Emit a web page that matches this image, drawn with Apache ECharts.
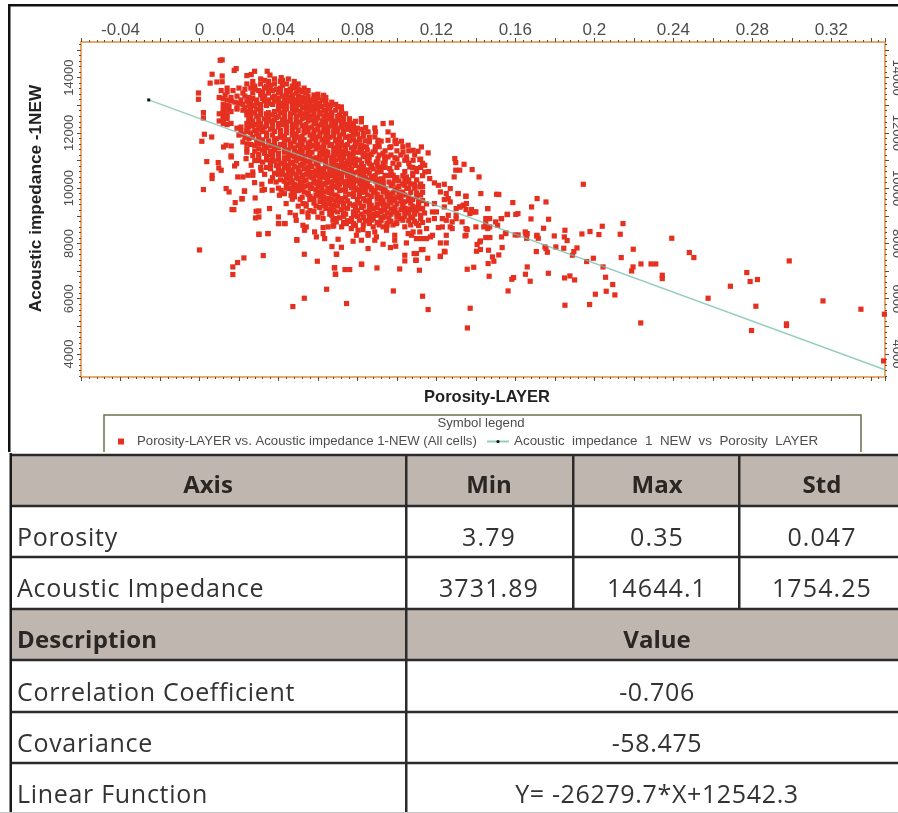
<!DOCTYPE html>
<html><head><meta charset="utf-8">
<style>html,body{margin:0;padding:0;background:#fff;overflow:hidden}#c{position:absolute;left:0;top:0;width:898px;height:813px}
.t{position:absolute;font:25px "Open Sans",sans-serif;color:#333;line-height:30px;height:30px;white-space:pre;transform:translateY(-15px)}
.c{transform:translate(-50%,-15px)}.b{font-size:24px;font-weight:bold;color:#2a2624}</style>
<script src="https://cdn.jsdelivr.net/npm/echarts@6/dist/echarts.min.js"></script>
</head><body><div id="c"></div><div id="tbl"></div>
<script>
// Points: [porosity, impedance]
const sparsePoints = [
[0,7764],[.0225,7475],[.0193,7309],[.0169,7150],[.0169,6875],[.0323,7560],[.0301,8332],[.0348,8358],[.0473,5717],[.0531,6017],[.0644,6343],[.0745,5826],[.0531,7609],[.0597,7356],[.0683,7113],[.069,6885],[.0737,7055],[.0761,7055],[.0822,7247],[.0899,7113],[.1014,7077],[.1114,7030],[.0982,6281],[.113,6090],[.1158,5609],[.0493,8115],[.0695,7609],[.0671,7888],[.0719,7862],[.104,7573],[.104,7367],[.1087,7634],[.1132,7780],[.1098,7392],[.1156,7464],[.122,7526],[.1244,7692],
[.2987,7367],[.3158,5920],[.335,5620],[.3469,5440],[.3465,3750],[.2973,5030],[.2973,5090],[.2796,4849],[.2818,5728],[.2826,6694],[.2789,6621],[.2772,6947],[.2689,6451],[.2576,6017],[.2481,7670],[.2504,7489],[.2392,8187],[.2344,6849],[.2344,6728],[.2287,7258],[.2311,7258],[.2236,7258],[.2196,7150],[.2189,7005],[.2197,7790],[.2235,5124],[.2136,7489],[.2131,8332],[.2145,8719],[.204,8622],[.2023,8321],[.1978,8430],[.1937,8343],[.1995,7464],[.1961,7345],[.2044,7150],[.2057,6777],[.2093,6513],[.206,6270],[.2104,6137],[.2005,6163],[.1976,5790],[.1851,5764],[.1849,6752],[.1876,6824],[.19,6680],[.1845,7826],[.1889,7573],[.1896,7706],[.1912,7837],[.1805,7873],[.1851,8477],[.1848,8235],[.1862,8104],[.1797,8271],[.1767,6921],[.1755,7815],[.1762,7681],[.1706,7706],[.1707,8271],[.1716,8187],[.1653,8343],[.1657,8187],[.1743,8549],[.1599,8307],[.1614,8307],[.166,7150],[.1651,6885],[.1675,6632],[.1591,6766],[.1582,6705],[.1563,6281],[.1467,6813],[.1389,7139],[.1356,7066],[.1371,5655],[.1357,4943],[.1516,7584],[.1533,7851],[.1462,7272],[.1491,7356],[.1484,7511],[.1464,7754],[.1403,7717],[.1423,7780],[.1406,7960],[.1423,8090],[.145,8213],[.1471,8213],[.1345,8271],[.1356,8502],[.153,8235],[.1552,8379],[.146,8538],
[.1944,10140],[.1768,8875],[.1679,8886],[.1682,9320],[.171,9623],[.1755,9500],[.1587,9478],[.1613,9080],[.1602,9050],[.1558,9045],[.1505,9779],[.1516,9770],[.1425,9804],[.1416,10405],[.1381,10672],[.134,10864],[.1318,10650],[.1298,10650],[.129,10405],[.1293,11070],[.1298,10926],[.146,9262],[.1528,8900],[.147,8900],[.145,8900],[.1378,9226],[.1395,9139],[.1352,9443],[.1335,9381],[.1318,9320],[.131,9804],[.1349,9707],
[.119,10189],[.121,10104],[.124,10140],[.122,9863],[.127,9984],[.125,9803],[.126,9622],[.124,9586],[.131,9803],[.135,9706],[.127,9501],[.119,9441],[.134,9381],[.132,9320],[.13,9260],[.135,9224],[.138,9140],[.14,9140],[.137,9080],[.12,9140],[.118,9140],[.124,9320],[.126,9019],[.13,9019],[.133,8778],[.119,8898],[.123,8898],[.125,8838],[.128,8778],[.13,8898],[.127,8597],[.123,8597],[.121,8573],[.128,8537],[.135,8537],[.135,8295],[.125,8295],[.118,8295],[.117,8235],[.125,8018],[.122,8018],[.124,7716],[.122,7536],[.14,8597],[.146,9260],[.146,8898],[.147,8597],[.142,8054],[.15,8778],[.153,8898],[.151,8657],[.145,8718],[.144,8597],[.156,9055],[.155,8356],[.165,8416],[.166,8356],[.171,8295],[.175,7873],
[.0105,14626],[.0115,14640],[.0186,14325],[.0176,14260],[.0064,14120],[.0115,14058],[.024,14072],[.0279,14228],[.0262,14110],[.0343,14228],[.0357,14090],[.0414,14000],[.0054,13800],[.0088,13840],[.0115,13850],[-.0005,13443],[-.0005,13215],[.002,12734],[.002,12540],[.0012,11696],[.0025,11950],[.0062,11850],[.0037,10960],[.0095,10926],[.0098,10730],[.0064,10466],[.0064,10347],[.002,9949],[.0135,9985],[.015,9862],[.0181,9478],[.0165,9226],[.0228,9887],[.0215,9609],[.0282,9645],[.0301,9175],[.0301,8958],[.0355,9262],[.0402,8720],[.0431,8720],[.0188,10889],[.0178,10803],[.0135,11552],[.0122,11490],[.0161,11526],[.0161,11128],[.0194,10405],[.022,10405],[.0245,10466],[.011,10646],[.016,11165],[.0236,11068],[.0262,10827],[.027,10586],[.027,10465],[.0312,10646],[.0279,10200],[.0316,10140],[.0228,9899],[.0216,9621],[.0174,9223],[.0317,9923],[.0329,9947],[.0368,9923],[.0287,9163],[.0284,8922],[.0301,8331],[.0346,8355],[.04,8958],[.04,8717],[.0434,8717],[.0493,8138],[.0459,9115],[.0486,9018],[.049,8837],[.0439,9440],[.0524,8657],[.0541,8596],[.0532,8476],[.0549,9103],[.0524,9440],[.0456,9983],[.0473,9862],[.0464,9742],[.0481,9682],[.0414,9923],[.0405,9742],[.0388,10224],
[.0685,7126],[.0688,6885],[.082,7247],[.1095,7391],[.1099,7633],[.1124,7777],[.0702,8151],[.0693,7608],[.0778,8079],[.082,8115],[.0854,7813],[.0854,8296],[.093,7970],[.0967,7850],[.0994,7898],[.1048,8018],[.0592,8236],[.0634,8175],[.0583,8417],[.0626,8356],[.0626,8899],[.0651,8597],[.0676,8622],[.0693,8778],[.0676,8839],[.0626,8573],[.0744,8718],[.0769,8537],[.0803,8477],[.0828,8501],[.0795,8296],[.0854,8356],[.0888,8416],[.0896,8236],[.0888,8115],[.0947,8477],[.0997,8718],[.0989,8296],[.0989,8115],[.1057,8356],[.1074,8296],[.1082,8416],[.1116,8416],[.1124,8175],[.115,8175],[.115,8537],[.1099,8175],
[.06,13396],[.0629,13360],[.0663,13000],[.0719,12938],[.0719,12817],[.0727,12516],[.0735,12275],[.0685,12335],[.079,12420],[.082,12516],[.082,12395],[.0842,12190],[.0854,12034],[.0888,12178],[.0891,12034],[.093,12335],[.0972,12359],[.0955,12034],[.0981,11913],[.0955,11732],[.0964,11467],[.0994,11732],[.0997,11611],[.1023,11696],[.1057,11551],[.1031,11310],[.1048,11129],[.104,11008],[.1082,11370],[.1107,11334],[.1124,11491],[.1158,11274],[.1082,11008],[.1116,11033],[.1141,10828],[.0938,11129],[.0955,11129],[.0904,11069],[.0904,11611],[.0904,11732],[.0888,11853],[.0812,11732],[.0795,11672],[.1065,10767],[.1099,10707],[.1141,10586],[.1166,10345],[.1048,10405],[.1057,10225],[.1116,10044],[.104,10104],[.0981,10466],[.0989,10309],[.0964,10707],[.0896,10948],[.0904,10767],[.0913,10647],[.0879,11310],[.0854,11189],[.0812,11310],[.0828,11250],[.0845,11491],[.0812,11491],[.0786,11491],[.0778,11250],[.0761,11189],[.0769,11069],[.0854,10948],[.0871,10828],[.0828,10647],[.0812,10466],[.0879,10345],[.0913,10285],[.093,10104],[.0845,10165],[.0812,10165],[.0778,10345],[.0752,10104],[.0727,10225],[.071,10526],[.0693,10828],[.0719,11008],[.0735,11250]
];
// Dense core, estimated band by band: [impedance, porosities in that band]
const denseBands = [
[13950,[.031,.038,.045]],[13860,[.027,.035,.041,.048]],[13770,[.024,.031,.038,.044,.050]],[13690,[.028,.034,.047]],[13620,[.014,.020,.026,.033,.041,.048,.053]],[13530,[.011,.017,.030,.037,.044,.051,.055]],[13440,[.022,.027,.035,.040,.049,.054]],[13370,[.013,.031,.044,.047,.058]],[13280,[.010,.016,.025,.037,.045,.052,.060,.064]],[13190,[.014,.021,.029,.035,.043,.049,.056,.062]],[13110,[.018,.026,.040,.047,.053,.059,.067]],[13030,[.012,.022,.031,.037,.044,.051,.056,.064,.069]],[12950,[.015,.026,.041,.049,.058,.062,.070]],[12860,[.012,.019,.029,.044,.047,.054,.060,.066]],[12770,[.016,.024,.031,.038,.043,.051,.058,.064,.072]],[12690,[.010,.026,.034,.046,.053,.061,.067,.074]],[12600,[.012,.029,.040,.049,.056,.063,.070]],[12510,[.014,.025,.033,.043,.052,.059,.066,.076]],[12430,[.010,.027,.036,.046,.055,.062,.069,.073]],[12340,[.012,.016,.024,.031,.040,.049,.058,.064,.072,.078]],[12260,[.027,.034,.044,.052,.060,.067,.076]],[12170,[.019,.024,.031,.037,.047,.055,.063,.070,.080]],[12090,[.021,.028,.041,.050,.058,.065,.073,.077]],[12000,[.026,.034,.044,.053,.061,.068,.083]],[11920,[.020,.030,.037,.047,.056,.064,.071,.078]],[11840,[.023,.027,.041,.050,.059,.066,.074,.086]],[11750,[.032,.038,.045,.053,.062,.069,.078]],[11670,[.022,.029,.035,.048,.056,.065,.072,.086]],[11580,[.026,.041,.052,.060,.067,.075]],[11500,[.033,.038,.046,.056,.063,.071,.089]],[11420,[.024,.030,.043,.051,.059,.068,.074]],[11340,[.028,.036,.048,.055,.064,.072]],[11260,[.033,.040,.052,.061,.068,.075,.093]],[11180,[.027,.037,.046,.056,.065,.071]],[11100,[.030,.043,.050,.059,.067,.073,.086,.099]],[11020,[.034,.040,.053,.062,.069,.081]],[10940,[.032,.047,.056,.064,.072,.079,.094]],[10860,[.036,.043,.052,.060,.067,.076,.101]],[10780,[.040,.048,.057,.064,.071,.083]],[10700,[.036,.045,.053,.062,.068,.077,.088]],[10620,[.042,.050,.059,.066,.074,.081]],[10540,[.038,.047,.055,.063,.070,.078,.086,.108]],[10460,[.044,.052,.060,.067,.075,.094]],[10380,[.037,.049,.057,.064,.072,.084,.100]],[10300,[.041,.046,.054,.061,.069,.076,.090,.106]],[10220,[.051,.059,.066,.073,.083,.096]],[10140,[.044,.048,.056,.063,.071,.078,.109]],[10060,[.053,.060,.068,.086,.101,.113]],[9990,[.046,.057,.065,.074,.094,.106]],[9910,[.050,.062,.071,.082,.089]],[9830,[.048,.055,.066,.078,.098,.110]],[9750,[.059,.069,.085,.104,.112]],[9670,[.052,.063,.074,.092,.100]],[9590,[.056,.067,.080,.096,.108]],[9510,[.061,.071,.086,.104,.111]],[9430,[.054,.065,.076,.090,.100,.115]],[9350,[.059,.070,.083,.095,.108]],[9270,[.064,.075,.088,.104,.113]],[9190,[.056,.068,.080,.092,.099,.110]],[9100,[.062,.073,.086,.095,.106,.114]],[9020,[.067,.078,.090,.101,.112]],[8930,[.071,.083,.093,.108]],[8840,[.081,.087,.103,.116]],[8760,[.073,.090,.100,.113]],[8670,[.083,.091,.098,.107]]
];
const denseBandsB = [
[13900,[.033,.042]],[13720,[.036,.042,.049,.027]],[13580,[.023,.028,.035,.039,.046,.050]],[13480,[.014,.032,.041,.046,.052]],[13330,[.019,.023,.033,.038,.042,.050,.055]],[13240,[.012,.027,.032,.040,.047,.054,.058]],[13150,[.016,.024,.033,.038,.045,.051,.058,.064]],[13070,[.020,.029,.035,.042,.049,.055,.061]],[12990,[.014,.025,.028,.034,.040,.047,.054,.060,.066]],[12910,[.019,.023,.031,.043,.052,.056,.065]],[12820,[.014,.022,.026,.040,.049,.057,.063,.069]],[12730,[.012,.028,.035,.041,.048,.055,.061,.067]],[12650,[.014,.024,.031,.037,.043,.051,.058,.065,.071]],[12560,[.026,.035,.039,.046,.054,.060,.067,.073]],[12470,[.012,.030,.038,.042,.049,.057,.064,.071]],[12390,[.025,.034,.044,.051,.059,.067,.076]],[12300,[.014,.029,.037,.042,.047,.054,.062,.069,.074]],[12210,[.021,.025,.033,.040,.049,.057,.065,.072,.078]],[12130,[.030,.036,.044,.053,.060,.068,.075,.082]],[12050,[.024,.032,.038,.047,.055,.063,.070,.079]],[11960,[.022,.029,.041,.049,.058,.065,.073,.080]],[11880,[.034,.043,.052,.061,.068,.076,.083]],[11790,[.025,.030,.039,.048,.057,.064,.071,.081]],[11710,[.035,.043,.051,.059,.069,.076,.084]],[11620,[.032,.038,.046,.055,.063,.070,.079]],[11540,[.028,.036,.043,.050,.058,.066,.073,.082]],[11460,[.034,.040,.048,.054,.061,.069,.077]],[11380,[.032,.038,.045,.052,.062,.070,.078,.085]],[11300,[.037,.043,.050,.057,.065,.073,.080]],[11220,[.030,.036,.045,.055,.063,.070,.077,.087]],[11140,[.034,.040,.048,.053,.061,.068,.076,.083]],[11060,[.037,.045,.051,.057,.064,.071,.079]],[10980,[.038,.043,.049,.055,.060,.067,.075,.085]],[10900,[.041,.046,.053,.059,.068,.074,.082,.090]],[10820,[.039,.045,.051,.056,.064,.072,.079,.087]],[10740,[.043,.050,.055,.060,.066,.073,.081,.092]],[10660,[.040,.047,.055,.063,.070,.076,.085]],[10580,[.045,.051,.057,.061,.068,.073,.080,.090]],[10500,[.042,.049,.054,.059,.065,.072,.083,.097]],[10420,[.046,.052,.056,.062,.069,.077,.087]],[10340,[.044,.050,.058,.065,.071,.082,.092]],[10260,[.047,.053,.061,.068,.075,.080,.089,.101]],[10180,[.046,.052,.058,.064,.070,.077,.085,.093]],[10100,[.050,.055,.061,.067,.074,.082,.090,.097]],[10020,[.048,.056,.062,.070,.077,.084,.091]],[9940,[.052,.059,.067,.072,.080,.087,.099]],[9860,[.053,.060,.064,.074,.084,.093,.103]],[9780,[.055,.062,.067,.076,.081,.090,.096]],[9700,[.056,.061,.070,.078,.087,.095,.106]],[9620,[.058,.065,.072,.083,.090,.098]],[9540,[.063,.069,.075,.084,.093,.102]],[9460,[.058,.066,.073,.081,.092,.097,.107]],[9380,[.063,.068,.078,.087,.093,.103]],[9300,[.061,.067,.073,.082,.090,.099,.110]],[9220,[.066,.072,.086,.094,.102,.108]],[9140,[.070,.078,.084,.092,.098,.104]],[9060,[.066,.074,.082,.088,.097,.109]],[8980,[.073,.080,.086,.094,.104]],[8900,[.069,.077,.088,.096,.102,.112]],[8820,[.075,.084,.092,.106]],[8720,[.078,.086,.095,.110]],[8600,[.072,.088,.093,.104]]
];
// Flanks of the cloud, estimated band by band
const flankBands = [
[11700,[.086,.092,.099]],[11500,[.083,.091,.097,.103]],[11350,[.082,.089,.094,.100,.106]],[11200,[.084,.091,.097,.102,.109]],[11050,[.078,.085,.094,.100,.105,.112]],[10900,[.077,.086,.093,.098,.106,.113]],[10750,[.074,.081,.087,.094,.100,.108,.112]],[10600,[.077,.084,.092,.097,.104,.110,.116]],[10450,[.083,.089,.096,.103,.108,.113]],[10300,[.079,.086,.093,.099,.104,.110]],[10150,[.084,.091,.098,.103,.107,.112]],[10000,[.079,.087,.092,.100,.105,.109]],[9850,[.082,.088,.095,.101,.107,.113]],[9700,[.081,.090,.097,.102,.110]],[9550,[.086,.092,.099,.106,.113]],[9400,[.079,.086,.095,.103,.111]],[9250,[.079,.088,.097,.106,.112]],[9100,[.079,.090,.100,.109]],[8950,[.083,.092,.100,.107]],[8800,[.076,.086,.097,.109]],[8650,[.068,.079,.095,.111]],
[11600,[.024,.030]],[11300,[.024,.033]],[11000,[.028,.030,.036]],[10750,[.031,.034]],[10500,[.033,.040]],[10250,[.036,.043]],[10000,[.040,.044,.051]],[9800,[.043,.047]],[9600,[.047,.051,.056]],[9350,[.050,.054]],[9150,[.052,.058]],[8950,[.055,.060]]
];
const fitLine = [[-.0257,13190],[.3472,3430]];
const xAxisTicks = ['-0.04','0','0.04','0.08','0.12','0.16','0.2','0.24','0.28','0.32'];
const yAxisTicks = [4000,6000,8000,10000,12000,14000];
const yMajorTicks = [4000,5000,6000,7000,8000,9000,10000,11000,12000,13000,14000,15000];
const yMinorTicks = [3200,3400,3600,3800,4200,4400,4600,4800,5200,5400,5600,5800,6200,6400,6600,6800,7200,7400,7600,7800,8200,8400,8600,8800,9200,9400,9600,9800,10200,10400,10600,10800,11200,11400,11600,11800,12200,12400,12600,12800,13200,13400,13600,13800,14200,14400,14600,14800,15200];
const legendNames = ['Porosity-LAYER vs. Acoustic impedance 1-NEW (All cells)','Acoustic  impedance  1  NEW  vs  Porosity  LAYER'];
const tableHead = ['Axis','Min','Max','Std'];
const tableAxisRows = [['Porosity','3.79','0.35','0.047'],['Acoustic Impedance','3731.89','14644.1','1754.25']];
const tableHead2 = ['Description','Value'];
const tableDescRows = [['Correlation Coefficient','-0.706'],['Covariance','-58.475'],['Linear Function','Y= -26279.7*X+12542.3']];

const cloud = sparsePoints.slice();
denseBands.concat(denseBandsB,flankBands).forEach(b => b[1].forEach(x => cloud.push([x, b[0]])));

const AX='#e8a96e', TK='#5a4a3a', LB='#4d4d4d', F='"Liberation Sans",Arial,sans-serif';
const xFmt = v => xAxisTicks.includes(String(+v.toFixed(2))) ? String(+v.toFixed(2)) : '';
const tick={show:true,length:4,lineStyle:{color:TK,width:1}};
const minor={show:true,length:2,splitNumber:5,lineStyle:{color:TK,width:1}};
const line={show:true,onZero:false,lineStyle:{color:AX,width:2}};
function xAx(pos,labels,extra){return Object.assign({type:'value',position:pos,min:-.06,max:.3472,interval:.02,axisLine:line,axisTick:tick,minorTick:minor,splitLine:{show:false},minorSplitLine:{show:false},
 axisLabel:{show:labels,formatter:xFmt,color:LB,fontSize:17,fontFamily:F,margin:3,hideOverlap:false,showMinLabel:true,showMaxLabel:false}},extra||{});}
function yAx(pos,rot,extra){return Object.assign({type:'value',position:pos,min:3168,max:15287,axisLine:line,axisTick:Object.assign({},tick,{customValues:yMajorTicks}),minorTick:{show:false},splitLine:{show:false},minorSplitLine:{show:false},
 axisLabel:{show:true,rotate:rot,customValues:yAxisTicks,formatter:v=>String(v),color:LB,fontSize:13,fontFamily:F,margin:5,hideOverlap:false}},extra||{});}
function yMinorAx(pos){return {type:'value',position:pos,min:3168,max:15287,axisLine:{show:false,onZero:false},axisTick:{show:true,length:2,customValues:yMinorTicks,lineStyle:{color:TK,width:1}},axisLabel:{show:false},splitLine:{show:false}};}

const g=[];
function rect(x,y,w,h,fill,z){g.push({type:'rect',silent:true,z:z||1,shape:{x,y,width:w,height:h},style:{fill}});}
rect(8,4,890,2.5,'#111'); rect(8,4,2.5,452,'#111');
g.push({type:'rect',silent:true,z:1,shape:{x:104,y:415,width:757,height:40},style:{fill:'#fff',stroke:'#6f6f50',lineWidth:1.5}});
g.push({type:'text',silent:true,z:5,x:481,y:423,style:{text:'Symbol legend',font:'13.2px '+F,fill:LB,textAlign:'center',textVerticalAlign:'middle'}});
const RY=[455,506,557,609,660,712,763];
rect(0,452,898,361,'#fff',12);
rect(11,455,887,51,'#bfb6b0',12); rect(11,609,887,51,'#bfb6b0',12);
RY.forEach(y=>rect(10,y-1.25,888,2.5,'#2b2b2b',13));
rect(9.5,453,2.5,360,'#1a1a1a',13);
rect(405,455,2.5,358,'#2b2b2b',13);
rect(572,455,2.5,154,'#2b2b2b',13); rect(738,455,2.5,154,'#2b2b2b',13);
rect(0,812,898,1,'#c8c8c8',13);

const chart=echarts.init(document.getElementById('c'),null,{renderer:'canvas'});
chart.setOption({
 backgroundColor:'#fff',animation:false,
 grid:{left:81,top:42,width:804,height:335,containLabel:false,outerBoundsMode:'none'},
 xAxis:[xAx('top',true),xAx('bottom',false,{name:'Porosity-LAYER',nameLocation:'middle',nameGap:12,nameTextStyle:{color:'#222',fontWeight:'bold',fontSize:16.5,fontFamily:F,padding:[0,0,0,8]}})],
 yAxis:[yAx('left',90,{name:'Acoustic impedance -1NEW',nameLocation:'middle',nameGap:36,nameTextStyle:{color:'#222',fontWeight:'bold',fontSize:17.2,fontFamily:F,padding:[0,0,0,22]}}),yAx('right',-90),yMinorAx('left'),yMinorAx('right')],
 legend:[
  {data:[legendNames[0]],left:118,top:435,itemWidth:6,itemHeight:6,padding:0,selectedMode:false,icon:'rect',itemGap:0,textStyle:{color:LB,fontSize:13.2,fontFamily:F,padding:[0,0,0,8]}},
  {data:[legendNames[1]],left:486,top:435,itemWidth:22,itemHeight:4,padding:0,selectedMode:false,itemGap:0,textStyle:{color:LB,fontSize:13.4,fontFamily:F,padding:[0,0,0,0]}}
 ],
 series:[
  {name:legendNames[0],type:'scatter',data:cloud,symbol:'rect',symbolSize:5.2,itemStyle:{color:'#e6301f',opacity:1},xAxisIndex:0,yAxisIndex:0,z:2,silent:true,large:false},
  {name:legendNames[1],type:'line',data:[{value:fitLine[0],symbol:'rect',symbolSize:3},{value:fitLine[1],symbol:'none'}],symbol:'circle',symbolSize:3,showSymbol:true,itemStyle:{color:'#111'},lineStyle:{color:'rgba(112,190,172,0.75)',width:1.4},xAxisIndex:0,yAxisIndex:0,z:3,silent:true}
 ],
 graphic:g
});
const tbl=document.getElementById('tbl');
function txt(t,x,y,cls,sp){const d=document.createElement('div');d.className='t '+(cls||'');d.textContent=t;d.style.left=x+'px';d.style.top=y+'px';if(sp)d.style.letterSpacing=sp+'px';tbl.appendChild(d);}
[208,489,657,822].forEach((x,i)=>txt(tableHead[i],x,484,'c b'));
tableAxisRows.forEach((r,i)=>{const y=[536,587][i];txt(r[0],17,y,'',.75);[489,657,822].forEach((x,j)=>txt(r[j+1],x,y,'c',1.1));});
txt(tableHead2[0],17,639,'b',.2);txt(tableHead2[1],657,639,'c b');
tableDescRows.forEach((r,i)=>{const y=[691,742,793][i];txt(r[0],17,y,'',.7);txt(r[1],657,y,'c',.65);});
</script></body></html>
